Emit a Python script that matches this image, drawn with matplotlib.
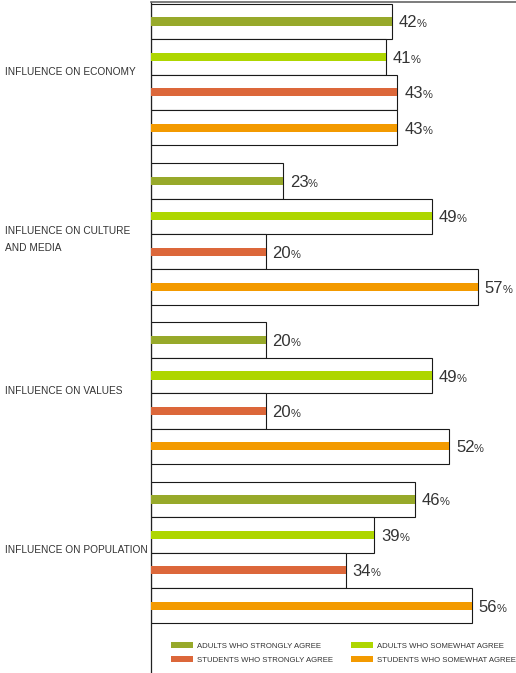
import matplotlib
matplotlib.use("Agg")
import matplotlib.pyplot as plt
from matplotlib.patches import Patch

categories = ["INFLUENCE ON ECONOMY", "INFLUENCE ON CULTURE\nAND MEDIA",
              "INFLUENCE ON VALUES", "INFLUENCE ON POPULATION"]
series_names = ["ADULTS WHO STRONGLY AGREE", "ADULTS WHO SOMEWHAT AGREE",
                "STUDENTS WHO STRONGLY AGREE", "STUDENTS WHO SOMEWHAT AGREE"]
adults_strong = [42, 23, 20, 46]
adults_somewhat = [41, 49, 49, 39]
students_strong = [43, 20, 20, 34]
students_somewhat = [43, 57, 52, 56]
series_values = [adults_strong, adults_somewhat, students_strong, students_somewhat]
colors = ["#97A92A", "#AED600", "#DC673A", "#F39A00"]

plt.rcParams['font.family'] = ['Liberation Sans', 'DejaVu Sans']

W, H = 516, 673
fig = plt.figure(figsize=(W / 100, H / 100), dpi=100)
ax = fig.add_axes([151 / W, 0, 1 - 151 / W, 671 / H])

pitch = 4.5
ax.set_xlim(0, (W - 151) / 5.73)
ax.set_ylim(18.9, -0.05)

for g in range(len(categories)):
    for i, vals in enumerate(series_values):
        yc = g * pitch + i + 0.5
        v = vals[g]
        ax.barh(yc, v, height=1.0, color="white", edgecolor="#1a1a1a", linewidth=0.8, zorder=2)
        ax.barh(yc, v, height=0.23, color=colors[i], linewidth=0, zorder=3)
        ax.annotate(str(v), xy=(v, yc), xytext=(5, -4.3), textcoords="offset points",
                    fontsize=12, color="#333333", va="baseline", ha="left")
        ax.annotate("%", xy=(v, yc), xytext=(5 + len(str(v)) * 0.556 * 12 - 0.3, -4.3),
                    textcoords="offset points", fontsize=8, color="#333333",
                    va="baseline", ha="left")
    lines = categories[g].split("\n")
    yc = g * pitch + 2
    for k, line in enumerate(lines):
        ax.annotate(line, xy=(0, yc), xycoords=("figure pixels", "data"),
                    xytext=(3.6, -0.3 - k * 12.2),
                    textcoords="offset points", fontsize=7.3, color="#333333",
                    va="baseline", ha="left")

for s in ["right", "bottom"]:
    ax.spines[s].set_visible(False)
ax.spines["top"].set_color("#666666")
ax.spines["top"].set_linewidth(1.2)
ax.spines["left"].set_color("#222222")
ax.spines["left"].set_linewidth(0.9)
ax.set_xticks([])
ax.set_yticks([])

handles = [Patch(facecolor=colors[i], edgecolor="none", label=series_names[i]) for i in [0, 2, 1, 3]]
leg = ax.legend(handles=handles, ncol=2, loc="upper left",
                bbox_to_anchor=(171 / W, 31 / H), bbox_transform=fig.transFigure,
                frameon=False, prop={"size": 5.55},
                handlelength=2.86, handleheight=0.9,
                handletextpad=0.52, columnspacing=2.3, labelspacing=0.8,
                borderpad=0, borderaxespad=0)
for t in leg.get_texts():
    t.set_color("#333333")

fig.savefig("out.png", dpi=100)
